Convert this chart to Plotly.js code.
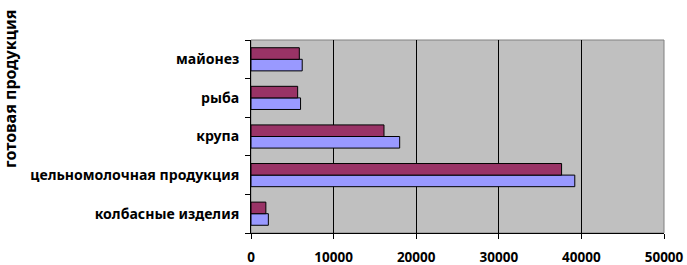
<!DOCTYPE html>
<html>
<head>
<meta charset="utf-8">
<script src="https://cdn.plot.ly/plotly-3.0.1.min.js"></script>
<style>html,body{margin:0;padding:0;background:#fff;}#chart{width:687px;height:265px;}</style>
</head>
<body>
<div id="chart"></div>
<script>
const categories = ["колбасные изделия", "цельномолочная продукция", "крупа", "рыба", "майонез"];
const seriesBlue = [2100, 39200, 18000, 6000, 6200];
const seriesMaroon = [1800, 37600, 16100, 5650, 5850];
const xTicks = [0, 10000, 20000, 30000, 40000, 50000];
const yTitle = "готовая продукция";

const fontFam = "'Noto Sans', 'Open Sans', sans-serif";

const traces = [
  {type: "bar", orientation: "h", y: categories, x: seriesBlue, name: "blue",
   marker: {color: "#9999FF", line: {color: "#000000", width: 1}}},
  {type: "bar", orientation: "h", y: categories, x: seriesMaroon, name: "maroon",
   marker: {color: "#993366", line: {color: "#000000", width: 1}}}
];

const layout = {
  width: 687, height: 265,
  margin: {l: 251, r: 23, t: 40, b: 32, pad: 0},
  paper_bgcolor: "#ffffff",
  plot_bgcolor: "#C0C0C0",
  showlegend: false,
  barmode: "group",
  bargap: 0.4,
  bargroupgap: 0,
  font: {family: fontFam, size: 13, color: "#000000", weight: "bold"},
  xaxis: {
    range: [0, 50000], tickvals: xTicks, ticktext: xTicks.map(String),
    showgrid: true, gridcolor: "#000000", gridwidth: 1,
    zeroline: false, showline: true, linecolor: "#000000", linewidth: 1,
    ticks: "outside", ticklen: 5, tickcolor: "#000000",
    ticklabelstandoff: 7,
    tickfont: {family: fontFam, size: 13.5, weight: "bold"}
  },
  yaxis: {
    type: "category", categoryorder: "array", categoryarray: categories,
    showgrid: false, zeroline: false, showline: true, linecolor: "#000000", linewidth: 1,
    ticks: "outside", ticklen: 5, tickcolor: "#000000", tickson: "boundaries",
    ticklabelstandoff: 8,
    tickfont: {family: fontFam, size: 14.1, weight: "bold"}
  },
  shapes: [
    {type: "rect", xref: "paper", yref: "paper", x0: 0, x1: 1, y0: 0, y1: 1,
     line: {color: "#808080", width: 1}, fillcolor: "rgba(0,0,0,0)", layer: "below"}
  ],
  annotations: [
    {text: yTitle, textangle: -90, xref: "paper", yref: "paper",
     x: (10 - 251) / 413, xanchor: "center", y: 1 - (89 - 40) / 193, yanchor: "middle",
     borderpad: 0, showarrow: false, font: {family: fontFam, size: 16, weight: "bold"}}
  ]
};

Plotly.newPlot("chart", traces, layout, {displayModeBar: false, staticPlot: true});
</script>
</body>
</html>
